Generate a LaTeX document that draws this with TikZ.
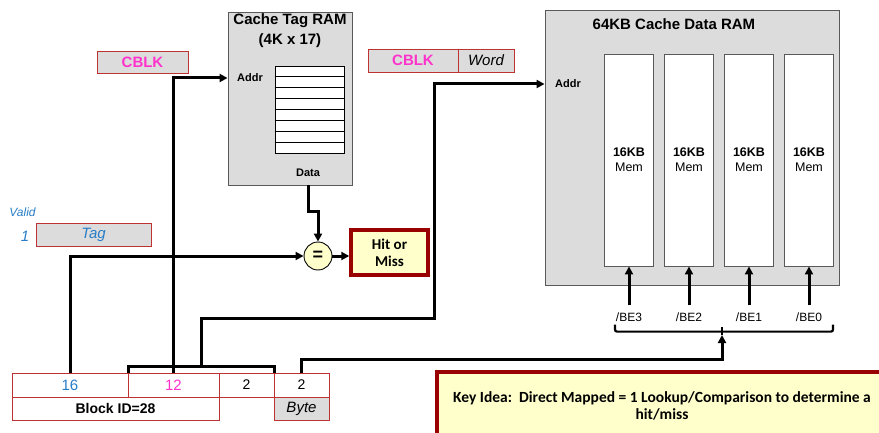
\documentclass[tikz,border=0pt]{standalone}
\usepackage{fontspec}
\setmainfont{Liberation Sans}
\newfontfamily\calibri{Carlito}
\usetikzlibrary{arrows.meta,positioning,calc}
\definecolor{ramgray}{RGB}{220,220,220}
\definecolor{fieldred}{RGB}{190,50,50}
\definecolor{cblkpink}{RGB}{255,51,204}
\definecolor{validblue}{RGB}{40,125,200}
\definecolor{keyred}{RGB}{153,0,0}
\definecolor{keyyellow}{RGB}{255,255,204}

\begin{document}
\begin{tikzpicture}[x=1pt, y=1pt,
      ram/.style={rectangle, draw=black!65, fill=ramgray, line width=0.9pt},
      field/.style={rectangle, draw=fieldred, line width=0.9pt, inner sep=0pt, outer sep=0pt,
                    minimum height=24pt, font=\fontsize{15}{18}\selectfont},
      cblk/.style={field, fill=ramgray, text=cblkpink, font=\fontsize{15}{18}\selectfont\bfseries},
      mem/.style={rectangle, draw=black!65, fill=white, line width=0.9pt, minimum width=49pt,
                  minimum height=212pt, align=center, font=\fontsize{12.5}{15}\selectfont},
      lbl/.style={inner sep=0pt, font=\fontsize{11}{13}\selectfont\bfseries},
      note/.style={rectangle, draw=keyred, fill=keyyellow, line width=3.4pt, align=center,
                   font=\calibri\fontsize{15}{17}\selectfont\bfseries},
      wire/.style={line width=3pt},
      arr/.style={wire, -{Triangle[length=8pt, width=8pt]}}]
    \useasboundingbox (0,0) rectangle (879,432);
    \clip (0,0) rectangle (879,432);
    \node[ram, minimum width=124pt, minimum height=173pt] (tagram) at (290,333.5) {};
    \node[align=center, font=\fontsize{15}{20}\selectfont\bfseries] (tagtitle) at (290,401) {Cache Tag RAM\\(4K x 17)};
    \node[draw, fill=white, line width=0.9pt, inner sep=0pt, minimum width=69pt, minimum height=87pt] (tagtable) at (309.5,322.5) {};
    \foreach \r in {1,...,7}
      \draw[line width=0.9pt] ($(tagtable.north west)!\r/8!(tagtable.south west)$) -- ($(tagtable.north east)!\r/8!(tagtable.south east)$);
    \node[lbl] (tagaddr) at (250,354) {Addr};
    \node[lbl] (tagdata) at (308,259) {Data};
    \node[cblk, minimum width=91pt, minimum height=22pt] (cblka) at (142.5,370) {CBLK};
    \node[cblk, minimum width=90pt, minimum height=23pt] (cblkb) at (413,371.5) {CBLK};
    \node[field, fill=ramgray, right=0pt of cblkb, minimum width=56pt, minimum height=23pt,
          font=\fontsize{15}{18}\selectfont\itshape] (word) {Word};
    \node[ram, minimum width=294pt, minimum height=275pt] (dataram) at (692,284.5) {};
    \node[font=\fontsize{15}{18}\selectfont\bfseries] (datatitle) at (674,408) {64KB Cache Data RAM};
    \node[lbl] (dataaddr) at (568,348) {Addr};
    \foreach \i/\b in {0/3,1/2,2/1,3/0} {
      \node[mem] (mem\b) at ({629+60*\i},272) {\textbf{16KB}\\Mem};
      \node[font=\fontsize{12}{14}\selectfont, inner sep=0pt] (be\b) at ({629+60*\i},115) {/BE\b};
      \draw[arr] ([yshift=7pt]be\b.north) -- (mem\b.south);
    }
    \node[font=\fontsize{12}{14}\selectfont\itshape, text=validblue] (valid) at (22.5,220) {Valid};
    \node[font=\fontsize{15}{18}\selectfont\itshape, text=validblue] (validbit) at (25,196) {1};
    \node[field, fill=ramgray, minimum width=115pt, minimum height=23pt, text=validblue,
          font=\fontsize{15}{18}\selectfont\itshape] (tag) at (93.5,197.5) {Tag};
    \node[circle, draw, fill=keyyellow, line width=0.9pt, minimum size=28pt, inner sep=0pt,
          font=\fontsize{18}{18}\selectfont\bfseries] (cmp) at (318,176) {=};
    \node[note, minimum width=77pt, minimum height=45pt] (hit) at (389.5,179.5) {Hit or\\Miss};
    \node[field, minimum width=116pt, text=validblue] (ftag) at (70,47) {16};
    \node[field, right=0pt of ftag, minimum width=91pt, text=cblkpink] (findex) {12};
    \node[field, right=0pt of findex, minimum width=55pt, font=\fontsize{14}{16}\selectfont] (fword) {2};
    \node[field, right=0pt of fword, minimum width=55pt, font=\fontsize{14}{16}\selectfont] (fbyte) {2};
    \node[field, anchor=north west, minimum width=207pt, minimum height=23pt,
          font=\fontsize{14}{16}\selectfont\bfseries] (blockid) at (ftag.south west) {Block ID=28};
    \node[field, fill=ramgray, anchor=north, minimum width=55pt, minimum height=23pt,
          font=\fontsize{15}{18}\selectfont\itshape] (byte) at (fbyte.south) {Byte};
    \node[note, minimum width=450pt, minimum height=68pt, font=\calibri\fontsize{15.5}{17}\selectfont\bfseries] (keyidea)
      at (662,26) {Key Idea:\ \ Direct Mapped = 1 Lookup/Comparison to determine a\\hit/miss};
    \coordinate (idx) at ($(findex.north west)!0.5!(fword.north east) + (0,7)$);
    \coordinate (wordup) at (434,114);
    \coordinate (bestem) at (722,97);
    \draw[arr] (findex.north) |- (tagram.west |- tagaddr);
    \draw[arr] (tagram.south -| tagdata) -- ++(0,-26) -| (cmp.north);
    \draw[arr] (ftag.north) |- (cmp.west);
    \draw[arr] (cmp.east) -- (hit.west |- cmp.east);
    \draw[wire] (findex.north west) -- ++(0,7) -| (fword.north east);
    \draw[arr] (idx) |- (wordup) |- (dataram.west |- dataaddr);
    \draw[line width=2.2pt, rounded corners=2pt] ([xshift=-14pt, yshift=-3pt]be3.south) -- ([xshift=-14pt, yshift=-10pt]be3.south)
      -- ([xshift=24pt, yshift=-10pt]be0.south) -- ([xshift=24pt, yshift=-3pt]be0.south);
    \draw[line width=2.2pt] (bestem) -- ++(0,8);
    \draw[arr] (fbyte.north) -- ++(0,14) -| (bestem);
  \end{tikzpicture}
\end{document}
